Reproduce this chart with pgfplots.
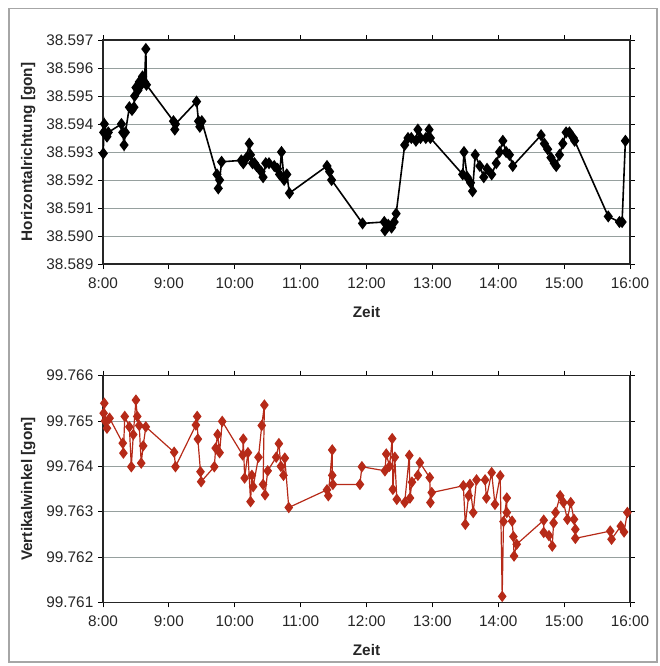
\documentclass[border=0pt]{standalone}
\usepackage{pgfplots}
\pgfplotsset{compat=1.18}
\usepackage{pgfplotstable}
\usepackage{fontspec}
\setmainfont{Liberation Sans}
\definecolor{rbrown}{RGB}{182,42,24}
\definecolor{gridc}{RGB}{150,160,158}

\pgfplotstableread{
t v
8.005 38.59295
8.01 38.5937
8.02 38.5940
8.04 38.59365
8.06 38.59355
8.08 38.5937
8.28 38.5940
8.30 38.5937
8.32 38.59325
8.34 38.5937
8.40 38.5946
8.44 38.5945
8.47 38.5946
8.48 38.5950
8.50 38.5953
8.53 38.5952
8.55 38.5955
8.58 38.5954
8.60 38.5957
8.63 38.5955
8.65 38.59668
8.66 38.5954
9.07 38.5941
9.09 38.5938
9.10 38.5940
9.42 38.5948
9.45 38.5941
9.47 38.5939
9.50 38.5941
9.73 38.5922
9.75 38.5917
9.77 38.5920
9.80 38.59265
10.10 38.5927
10.13 38.5926
10.18 38.5928
10.22 38.5933
10.24 38.5929
10.27 38.5926
10.30 38.5926
10.33 38.5925
10.40 38.5923
10.43 38.5921
10.47 38.5926
10.52 38.5926
10.60 38.5925
10.65 38.5924
10.68 38.5922
10.71 38.5930
10.75 38.5920
10.79 38.5922
10.83 38.59153
11.40 38.5925
11.44 38.5923
11.47 38.5920
11.94 38.59045
12.27 38.5905
12.28 38.5902
12.33 38.5904
12.38 38.5903
12.42 38.5905
12.45 38.5908
12.58 38.59325
12.63 38.5935
12.68 38.5935
12.75 38.5934
12.78 38.5938
12.82 38.5935
12.90 38.5935
12.95 38.5938
12.97 38.5935
13.46 38.5922
13.48 38.5930
13.53 38.5921
13.58 38.5919
13.61 38.5916
13.65 38.5929
13.72 38.5925
13.78 38.5921
13.83 38.5924
13.90 38.5922
13.97 38.5926
14.02 38.5930
14.07 38.5934
14.12 38.5930
14.17 38.5929
14.22 38.5925
14.65 38.5936
14.70 38.5933
14.75 38.5931
14.80 38.5928
14.85 38.5926
14.88 38.5925
14.93 38.5929
14.98 38.5933
15.03 38.5937
15.08 38.5937
15.14 38.5935
15.16 38.5934
15.67 38.5907
15.84 38.5905
15.88 38.5905
15.93 38.5934
}\hz

\pgfplotstableread{
t v
8.01 99.76517
8.02 99.76539
8.03 99.76500
8.06 99.76484
8.10 99.76506
8.30 99.76451
8.31 99.76429
8.33 99.76510
8.40 99.76487
8.43 99.76399
8.46 99.76470
8.50 99.76546
8.52 99.76510
8.55 99.76490
8.58 99.76407
8.61 99.76445
8.65 99.76487
9.08 99.76431
9.10 99.76399
9.41 99.76491
9.43 99.76510
9.44 99.76460
9.48 99.76388
9.49 99.76366
9.69 99.76399
9.71 99.76440
9.74 99.76470
9.77 99.76430
9.81 99.76499
10.12 99.76425
10.13 99.76460
10.15 99.76374
10.20 99.76430
10.24 99.76322
10.26 99.76380
10.28 99.76355
10.36 99.76420
10.41 99.76490
10.45 99.76535
10.43 99.76360
10.46 99.76337
10.50 99.76390
10.63 99.76420
10.67 99.76450
10.70 99.76400
10.74 99.76380
10.76 99.76418
10.82 99.76309
11.40 99.76348
11.42 99.76335
11.48 99.76436
11.48 99.76380
11.49 99.76360
11.90 99.76360
11.93 99.76399
12.28 99.7639
12.30 99.76427
12.35 99.7640
12.39 99.76461
12.40 99.76349
12.43 99.7642
12.46 99.76327
12.58 99.7632
12.65 99.76424
12.66 99.76330
12.69 99.76365
12.78 99.76380
12.81 99.76408
12.96 99.76375
12.97 99.7632
12.99 99.76342
13.47 99.76357
13.50 99.76272
13.55 99.76335
13.57 99.76360
13.62 99.76298
13.67 99.76370
13.80 99.76370
13.82 99.76330
13.90 99.76386
13.95 99.76316
14.03 99.76379
14.06 99.76113
14.08 99.76278
14.13 99.76330
14.13 99.76298
14.21 99.76279
14.23 99.76245
14.24 99.76202
14.28 99.76228
14.69 99.76281
14.69 99.76254
14.77 99.76247
14.82 99.76224
14.84 99.76275
14.87 99.76298
14.94 99.76335
14.99 99.76320
15.05 99.76283
15.10 99.76320
15.15 99.76283
15.17 99.76261
15.17 99.76241
15.70 99.76257
15.72 99.76239
15.86 99.76268
15.91 99.76255
15.96 99.76298
}\vw

\pgfplotsset{
  myax/.style={
    scale only axis,
    width=395.25pt,
    xmin=8, xmax=16,
    xtick={8,9,...,16},
    xticklabels={8:00,9:00,10:00,11:00,12:00,13:00,14:00,15:00,16:00},
    tick align=outside,
    major tick length=3.75pt,
    tick style={black, line width=0.6pt},
    ymajorgrids,
    grid style={gridc, line width=0.6pt},
    axis line style={black!85, line width=1.1pt},
    tick label style={font=\fontsize{11.5}{13}\selectfont, black!85},
    /pgf/number format/assume math mode=true,
    yticklabel style={/pgf/number format/fixed, /pgf/number format/precision=3, /pgf/number format/fixed zerofill, /pgf/number format/use period, /pgf/number format/1000 sep={}},
    xticklabel style={yshift=-3pt},
    every axis y label/.style={at={(axis description cs:-0.142,0.5)}, rotate=90, anchor=center, font=\fontsize{11.5}{13}\selectfont\bfseries, text=black!85},
    every axis x label/.style={at={(axis description cs:0.5,-0.214)}, anchor=center, font=\fontsize{11.5}{13}\selectfont\bfseries, text=black!85},
    xlabel={Zeit},
    scaled y ticks=false,
  }
}

\begin{document}
\begin{tikzpicture}
\path (0pt,0pt) rectangle (494.25pt,-499.5pt);
\draw[gray!70, line width=0.8pt] (6.75pt,-6.5pt) rectangle (492.75pt,-496.5pt);
\begin{axis}[myax,
  at={(77.25pt,-198pt)}, anchor=south west,
  height=168pt,
  ymin=38.589, ymax=38.597, ytick={38.589,38.590,...,38.597},
  ylabel={Horizontalrichtung [gon]},
]
\addplot[black, line width=1.2pt, mark=diamond*, mark size=3.6pt, mark options={fill=black}] table[x=t,y=v]{\hz};
\end{axis}
\begin{axis}[myax,
  at={(77.25pt,-451.7pt)}, anchor=south west,
  height=170pt,
  ymin=99.761, ymax=99.766, ytick={99.761,99.762,...,99.766},
  ylabel={Vertikalwinkel [gon]},
  every axis x label/.style={at={(axis description cs:0.5,-0.212)}, anchor=center, font=\fontsize{11.5}{13}\selectfont\bfseries, text=black!85},
]
\addplot[rbrown, line width=0.9pt, mark=diamond*, mark size=3.6pt, mark options={fill=rbrown}] table[x=t,y=v]{\vw};
\end{axis}
\end{tikzpicture}
\end{document}
